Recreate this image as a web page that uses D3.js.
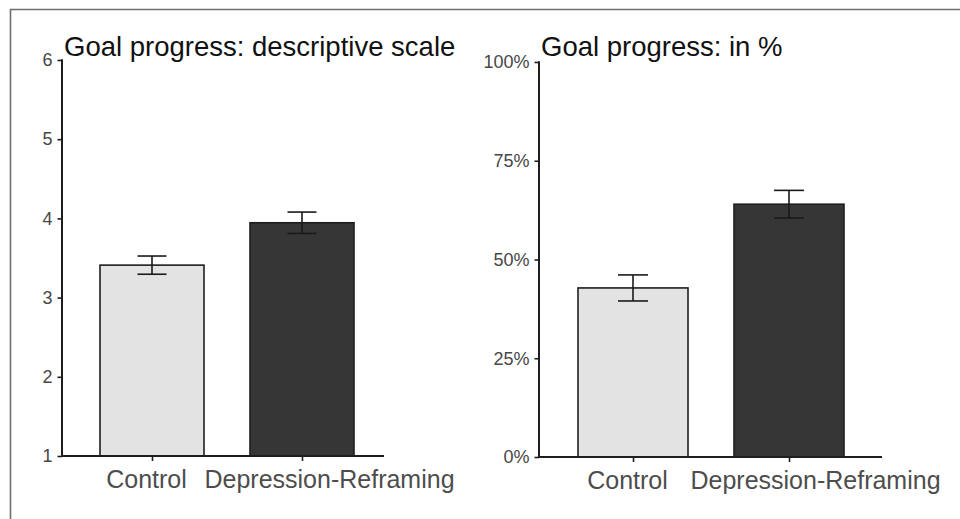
<!DOCTYPE html>
<html>
<head>
<meta charset="utf-8">
<script src="https://cdn.jsdelivr.net/npm/d3@7/dist/d3.min.js"></script>
<style>
  html, body { margin: 0; padding: 0; background: #fff; }
  svg { display: block; font-family: "Liberation Sans", Arial, sans-serif; }
</style>
</head>
<body>
<svg id="chart" width="960" height="519"></svg>
<script>
// ---------- data ----------
const categories = ["Control", "Depression-Reframing"];
const barFills = ["#e3e3e3", "#363636"];

const scaleTitle = "Goal progress: descriptive scale";
const scaleMeans = [3.41, 3.945];
const scaleErrors = [0.115, 0.135];
const scaleTicks = [1, 2, 3, 4, 5, 6];

const pctTitle = "Goal progress: in %";
const pctMeans = [42.8, 64.0];
const pctErrors = [3.3, 3.5];
const pctTicks = [0, 25, 50, 75, 100];
const pctTickLabels = ["0%", "25%", "50%", "75%", "100%"];

// ---------- drawing ----------
const svg = d3.select("#chart");

// outer frame (top and left edges visible)
svg.append("line").attr("x1", 10).attr("x2", 960).attr("y1", 9.5).attr("y2", 9.5)
  .attr("stroke", "#6e6e6e").attr("stroke-width", 1.6);
svg.append("line").attr("x1", 10.5).attr("x2", 10.5).attr("y1", 9).attr("y2", 519)
  .attr("stroke", "#6e6e6e").attr("stroke-width", 1.6);

function panel(cfg) {
  const g = svg.append("g");
  const y = d3.scaleLinear().domain(cfg.domain).range([cfg.yBottom, cfg.yTop]);
  const x = d3.scalePoint().domain(categories).range(cfg.centers);

  // bars
  g.selectAll("rect.bar").data(categories).join("rect")
    .attr("class", "bar")
    .attr("x", d => x(d) - cfg.barW / 2)
    .attr("width", cfg.barW)
    .attr("y", (d, i) => y(cfg.means[i]))
    .attr("height", (d, i) => y(cfg.domain[0]) - y(cfg.means[i]))
    .attr("fill", (d, i) => barFills[i])
    .attr("stroke", "#1e1e1e").attr("stroke-width", 1.6);

  // error bars
  const eb = g.selectAll("g.eb").data(categories).join("g").attr("class", "eb")
    .attr("stroke", "#1a1a1a").attr("stroke-width", 1.6);
  eb.append("line")
    .attr("x1", d => x(d)).attr("x2", d => x(d))
    .attr("y1", (d, i) => y(cfg.means[i] + cfg.errs[i]))
    .attr("y2", (d, i) => y(cfg.means[i] - cfg.errs[i]));
  [1, -1].forEach(s => {
    eb.append("line")
      .attr("x1", d => x(d) - cfg.capW / 2).attr("x2", d => x(d) + cfg.capW / 2)
      .attr("y1", (d, i) => y(cfg.means[i] + s * cfg.errs[i]))
      .attr("y2", (d, i) => y(cfg.means[i] + s * cfg.errs[i]));
  });

  // y axis
  const yAxis = d3.axisLeft(y).tickValues(cfg.ticks).tickSize(4.5).tickPadding(5)
    .tickFormat((d, i) => cfg.tickLabels[i]);
  const ya = g.append("g").attr("transform", `translate(${cfg.xLeft},0)`).call(yAxis);
  ya.select(".domain").remove();
  ya.append("line").attr("x1", 0).attr("x2", 0)
    .attr("y1", cfg.yTop - 0.8).attr("y2", cfg.yBottom + 0.8)
    .attr("stroke", "#1e1e1e").attr("stroke-width", 2);
  ya.selectAll(".tick line").attr("stroke", "#1e1e1e").attr("stroke-width", 1.6);
  ya.selectAll(".tick text").attr("fill", "#474747")
    .style("font-size", "18px").style("font-family", "Liberation Sans, Arial, sans-serif");

  // x axis
  const xAxis = d3.axisBottom(x).tickSize(5).tickPadding(9);
  const xa = g.append("g").attr("transform", `translate(0,${cfg.yBottom})`).call(xAxis);
  xa.select(".domain").remove();
  xa.append("line").attr("x1", cfg.xLeft - 1).attr("x2", cfg.xRight)
    .attr("y1", 0).attr("y2", 0)
    .attr("stroke", "#1e1e1e").attr("stroke-width", 2);
  xa.selectAll(".tick line").attr("stroke", "#1e1e1e").attr("stroke-width", 1.6);
  xa.selectAll(".tick text").attr("fill", "#4d4d4d")
    .attr("dy", "0.71em")
    .attr("dx", (d, i) => cfg.labelDx[i])
    .style("font-size", "25px").style("font-family", "Liberation Sans, Arial, sans-serif");

  // title
  g.append("text").attr("x", cfg.xLeft + 2).attr("y", 55.5)
    .attr("fill", "#111").style("font-size", "27.5px")
    .text(cfg.title);
}

panel({
  title: scaleTitle, domain: [1, 6], ticks: scaleTicks, tickLabels: scaleTicks.map(String),
  means: scaleMeans, errs: scaleErrors,
  xLeft: 62, xRight: 384, yTop: 60, yBottom: 456,
  centers: [152, 302], barW: 104, capW: 29, labelDx: [-6, 27]
});

panel({
  title: pctTitle, domain: [0, 100], ticks: pctTicks, tickLabels: pctTickLabels,
  means: pctMeans, errs: pctErrors,
  xLeft: 539, xRight: 882, yTop: 62, yBottom: 457,
  centers: [633, 789], barW: 110, capW: 30, labelDx: [-6, 26]
});
</script>
</body>
</html>
